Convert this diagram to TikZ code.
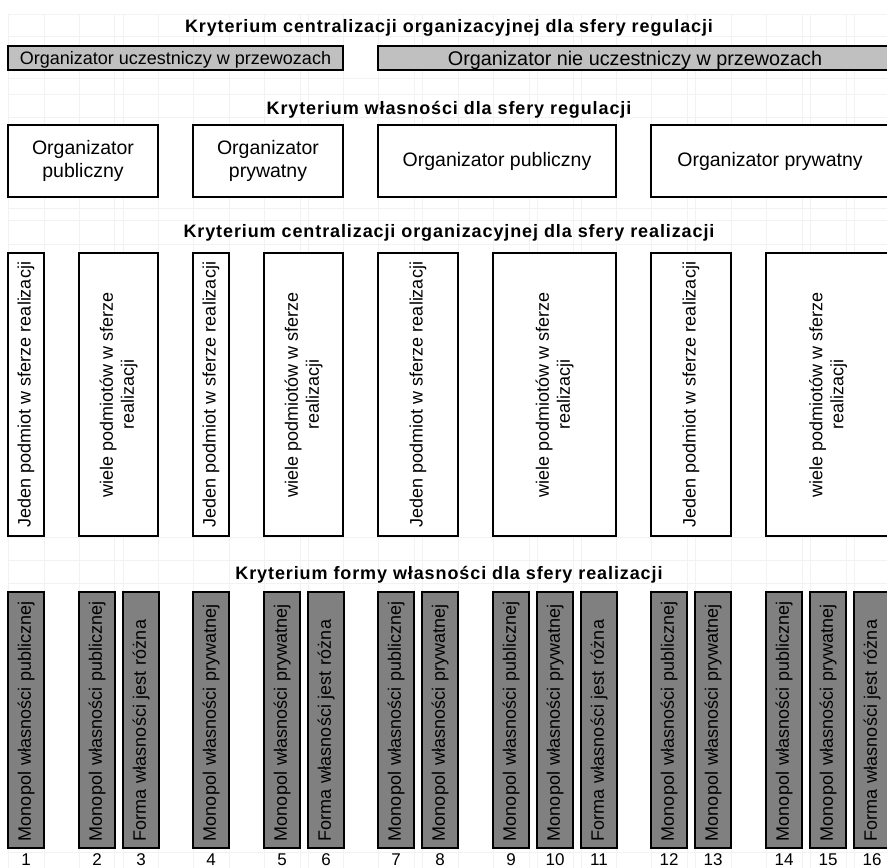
\documentclass[tikz,border=0pt]{standalone}
\usepackage{fontspec}
\setmainfont{Liberation Sans}
\newfontfamily\headfont[LetterSpace=5]{Liberation Sans}
\definecolor{lightfill}{RGB}{192,192,192}
\definecolor{darkfill}{RGB}{128,128,128}
\newcommand{\pubtxt}{Monopol własności publicznej}
\newcommand{\prvtxt}{Monopol własności prywatnej}
\newcommand{\mixtxt}{Forma własności jest różna}
\begin{document}
\begin{tikzpicture}[x=1pt,y=-1pt,
  sheetgrid/.style={draw=black!5, line width=0.6pt},
  heading/.style={font=\headfont\bfseries\fontsize{18}{21}\selectfont, anchor=base, inner sep=0pt},
  frame/.style={draw=black, line width=1.7pt, inner sep=0pt},
  bandbox/.style={frame, fill=lightfill, text height=13pt, text depth=0pt},
  ownerbox/.style={frame, fill=white, align=center, font=\fontsize{19.5}{22.5}\selectfont},
  entitybox/.style={frame, fill=white, rotate=90, align=center, minimum width=283pt, font=\fontsize{18}{21}\selectfont},
  formbox/.style={frame, fill=darkfill, rotate=90, minimum width=256pt, minimum height=36pt,
    inner xsep=7pt, text width=242pt, align=left, font=\fontsize{18}{21}\selectfont},
  colnum/.style={anchor=base, inner sep=0pt, font=\fontsize{17}{20}\selectfont}
]
\path[use as bounding box, clip] (0,0) rectangle (887,868);
\fill[white] (0,0) rectangle (887,868);

% faint spreadsheet grid behind the chart
\foreach \gx in {8,44,79,114,123,158,193,229,264,300,308,343,378,414,422,458,493,529,537,573,581,616,651,687,695,731,766,802,810,846,854}
  \draw[sheetgrid] (\gx,14) -- (\gx,868);
\foreach \gy in {14,36,78,94,117,208,220,244,537,560,583,852}
  \draw[sheetgrid] (8,\gy) -- (887,\gy);

% level 1: organisational centralisation of regulation
\node[heading] (h1) at (449,32.5) {Kryterium centralizacji organizacyjnej dla sfery regulacji};
\node[bandbox, minimum width=335pt, minimum height=24pt, font=\fontsize{18}{21}\selectfont]
  (r1) at (175.5,58) {Organizator uczestniczy w przewozach};
\node[bandbox, minimum width=514pt, minimum height=24pt, font=\fontsize{19.8}{22}\selectfont, text height=14pt]
  (r2) at (635,58) {Organizator nie uczestniczy w przewozach};

% level 2: ownership of the organiser
\node[heading] (h2) at (449,114) {Kryterium własności dla sfery regulacji};
\node[ownerbox, minimum width=150pt, minimum height=72pt] (o1) at (83,161) {Organizator\\publiczny};
\node[ownerbox, minimum width=150pt, minimum height=72pt] (o2) at (268,161) {Organizator\\prywatny};
\node[ownerbox, minimum width=238pt, minimum height=72pt] (o3) at (497,161) {Organizator publiczny};
\node[ownerbox, minimum width=238pt, minimum height=72pt] (o4) at (770,161) {Organizator prywatny};

% level 3: organisational centralisation of operation
\node[heading] (h3) at (449,237.5) {Kryterium centralizacji organizacyjnej dla sfery realizacji};
\node[entitybox, minimum height=36pt]  (e1) at (26,394.5)  {Jeden podmiot w sferze realizacji};
\node[entitybox, minimum height=79pt]  (e2) at (118.5,394.5) {wiele podmiotów w sferze\\realizacji};
\node[entitybox, minimum height=36pt]  (e3) at (211,394.5) {Jeden podmiot w sferze realizacji};
\node[entitybox, minimum height=79pt]  (e4) at (303.5,394.5) {wiele podmiotów w sferze\\realizacji};
\node[entitybox, minimum height=80pt]  (e5) at (418,394.5) {Jeden podmiot w sferze realizacji};
\node[entitybox, minimum height=123pt] (e6) at (554.5,394.5) {wiele podmiotów w sferze\\realizacji};
\node[entitybox, minimum height=80pt]  (e7) at (691,394.5) {Jeden podmiot w sferze realizacji};
\node[entitybox, minimum height=124pt] (e8) at (828,394.5) {wiele podmiotów w sferze\\realizacji};

% level 4: form of ownership in operation
\node[heading] (h4) at (449,579.5) {Kryterium formy własności dla sfery realizacji};
\foreach \k/\lx/\txt in {1/8/\pubtxt, 2/79/\pubtxt, 3/123/\mixtxt, 4/193/\prvtxt,
    5/264/\prvtxt, 6/308/\mixtxt, 7/378/\pubtxt, 8/422/\prvtxt, 9/493/\pubtxt,
    10/537/\prvtxt, 11/581/\mixtxt, 12/651/\pubtxt, 13/695/\prvtxt, 14/766/\pubtxt,
    15/810/\prvtxt, 16/854/\mixtxt} {
  \node[formbox] (f\k) at (\lx+18,720) {\txt};
  \node[colnum] (n\k) at (\lx+18,865) {\k};
}
\end{tikzpicture}
\end{document}
